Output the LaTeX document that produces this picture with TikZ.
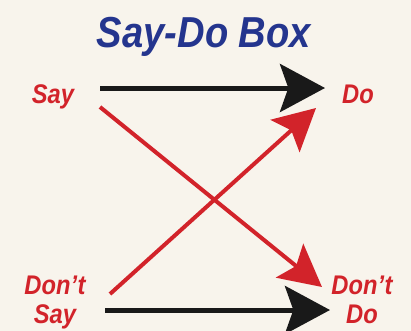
\documentclass[tikz,border=0pt]{standalone}
\usepackage{fontspec}
\newfontfamily\sdfont[FakeStretch=0.88]{Liberation Sans}
\usetikzlibrary{arrows.meta}
\definecolor{paper}{HTML}{F8F4EC}
\definecolor{sayred}{HTML}{D2232A}
\definecolor{boxblue}{HTML}{24358E}

\begin{document}
\begin{tikzpicture}[
  x=0.03cm, y=-0.03cm,
  ttl/.style={font=\sdfont\bfseries\itshape\fontsize{37}{40}\selectfont,
              text=boxblue, inner sep=0pt},
  lbl/.style={font=\sdfont\bfseries\itshape\fontsize{23}{24}\selectfont,
              text=sayred, inner sep=0pt, align=center},
  blk/.style={-{Stealth[length=13.5mm, width=14.4mm, inset=2.5mm]},
              line width=0.15cm, black!90},
  crs/.style={-{Stealth[length=12.5mm, width=13mm, inset=2.5mm]},
              line width=0.12cm, sayred}
]
\fill[paper] (0,0) rectangle (411,331);
\useasboundingbox (0,0) rectangle (411,331);

\node[ttl] (title) at (204,47) [anchor=base] {Say-Do Box};

% last line sits on the anchor
\node[lbl, anchor=base] (say)  at (53,103)  {Say};
\node[lbl, anchor=base] (do)   at (358,103) {Do};
\node[lbl, anchor=base] (dsay) at (55,323)  {Don’t\\Say};
\node[lbl, anchor=base] (ddo)  at (362,323) {Don’t\\Do};

\coordinate (sayR)  at (100,88);
\coordinate (sayX)  at (100,107);
\coordinate (doL)   at (325,88);
\coordinate (doX)   at (316,108);
\coordinate (dsayR) at (105,310);
\coordinate (dsayX) at (110,294);
\coordinate (ddoL)  at (330,310);
\coordinate (ddoX)  at (322,287);

\draw[blk] (sayR)  -- (doL);
\draw[blk] (dsayR) -- (ddoL);
\draw[crs] (sayX)  -- (ddoX);
\draw[crs] (dsayX) -- (doX);
\end{tikzpicture}
\end{document}
